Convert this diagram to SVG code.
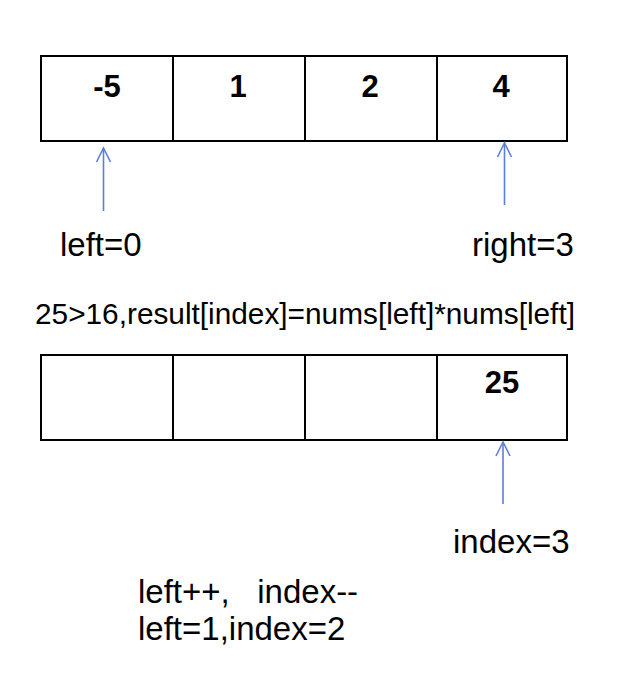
<svg xmlns="http://www.w3.org/2000/svg" width="626" height="692" viewBox="0 0 626 692">
<style>
.box{fill:#fff;stroke:#000;stroke-width:2}
.num{font-family:"Liberation Sans",Arial,sans-serif;font-weight:bold;font-size:31px;text-anchor:middle;fill:#000}
.lbl{font-family:"Liberation Sans",Arial,sans-serif;font-size:33px;fill:#000}
.desc{font-family:"Liberation Sans",Arial,sans-serif;font-size:29.8px;fill:#000}
.arr{stroke:#5b7fd6;stroke-width:1.6;fill:none}
</style>
<defs>
<marker id="ah" markerUnits="userSpaceOnUse" markerWidth="20" markerHeight="20" refX="15" refY="8" orient="auto" viewBox="0 0 20 16">
<path d="M1,1 L15,8 L1,15" fill="none" stroke="#5b7fd6" stroke-width="1.6"/>
</marker>
</defs>
<rect width="626" height="692" fill="#fff"/>
<g id="array-top">
<rect class="box" x="41" y="56" width="132" height="85"/>
<rect class="box" x="173" y="56" width="132" height="85"/>
<rect class="box" x="305" y="56" width="132" height="85"/>
<rect class="box" x="437" y="56" width="130" height="85"/>
<text class="num" x="107" y="97">-5</text>
<text class="num" x="238" y="97">1</text>
<text class="num" x="370" y="97">2</text>
<text class="num" x="501" y="97">4</text>
</g>
<g id="array-bottom">
<rect class="box" x="41" y="355" width="132" height="85"/>
<rect class="box" x="173" y="355" width="132" height="85"/>
<rect class="box" x="305" y="355" width="132" height="85"/>
<rect class="box" x="437" y="355" width="130" height="85"/>
<text class="num" x="502" y="393">25</text>
</g>
<g id="connectors">
<line class="arr" x1="103.5" y1="211" x2="103.5" y2="148" marker-end="url(#ah)"/>
<line class="arr" x1="504.5" y1="205" x2="504.5" y2="143" marker-end="url(#ah)"/>
<line class="arr" x1="503" y1="504" x2="503" y2="442" marker-end="url(#ah)"/>
</g>
<g id="label-left"><text class="lbl" x="60" y="256">left=0</text></g>
<g id="label-right"><text class="lbl" x="472" y="256">right=3</text></g>
<g id="label-cond"><text class="desc" x="35" y="324">25&gt;16,result[index]=nums[left]*nums[left]</text></g>
<g id="label-index"><text class="lbl" x="453" y="553">index=3</text></g>
<g id="label-step">
<text class="lbl" x="138" y="603" xml:space="preserve">left++,   index--</text>
<text class="lbl" x="138" y="640">left=1,index=2</text>
</g>
</svg>
